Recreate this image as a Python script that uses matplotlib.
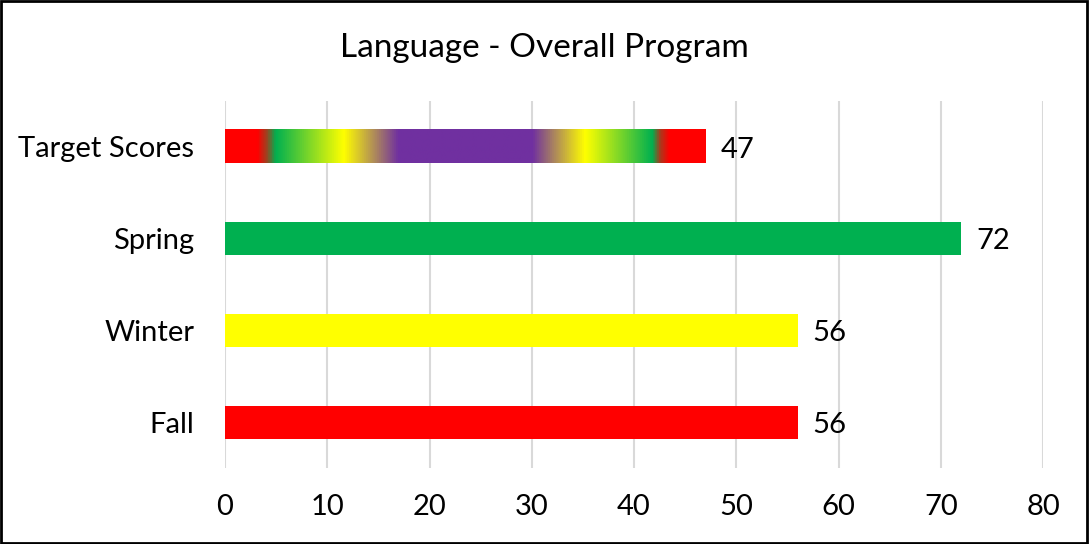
import matplotlib.pyplot as plt
import numpy as np
from matplotlib.colors import LinearSegmentedColormap
from matplotlib.patches import Rectangle

plt.rcParams['font.family'] = ['Lato', 'DejaVu Sans']

categories = ["Fall", "Winter", "Spring", "Target Scores"]
values = [56, 56, 72, 47]
bar_colors = ["#ff0000", "#ffff00", "#00b050", None]
xticks = [0, 10, 20, 30, 40, 50, 60, 70, 80]

# gradient used for the target bar (position along bar, colour)
grad_pos = [0.0, 0.066, 0.085, 0.104, 0.246, 0.36, 0.64, 0.75, 0.89, 0.905, 0.925, 1.0]
grad_col = ["#ff0000", "#ff0000", "#a04020", "#00b050", "#ffff00", "#7030a0",
            "#7030a0", "#ffff00", "#00b050", "#a04020", "#ff0000", "#ff0000"]

fig = plt.figure(figsize=(10.89, 5.44), dpi=100)
ax = fig.add_axes([225 / 1089, 1 - 468 / 544, (1043 - 225) / 1089, (468 - 101) / 544])

y = np.arange(len(categories))
h = 0.36
for i, (v, c) in enumerate(zip(values, bar_colors)):
    if c is not None:
        ax.barh(y[i], v, height=h, color=c, zorder=2)
    else:
        cmap = LinearSegmentedColormap.from_list("target", list(zip(grad_pos, grad_col)))
        grad = np.linspace(0, 1, 512).reshape(1, -1)
        ax.imshow(grad, cmap=cmap, aspect="auto", extent=[0, v, y[i] - h / 2, y[i] + h / 2],
                  zorder=2, interpolation="bilinear")
    ax.text(v + 1.45, y[i] - 0.03, str(v), va="center", ha="left", fontsize=21, color="#000000")

ax.set_xlim(0, 80)
ax.set_ylim(-0.5, len(categories) - 0.5)
ax.set_xticks(xticks)
ax.set_yticks(y)
ax.set_yticklabels(categories)
ax.tick_params(axis="x", length=0, pad=19, labelsize=21)
ax.tick_params(axis="y", length=0, pad=22, labelsize=21)
for lab in ax.get_yticklabels():
    lab.set_va("center_baseline")
ax.grid(axis="x", color="#d9d9d9", linewidth=1.5, zorder=0)
ax.set_axisbelow(True)
for s in ax.spines.values():
    s.set_visible(False)

fig.text(0.5, 1 - 48 / 544, "Language - Overall Program", ha="center", va="center", fontsize=24)
fig.patches.append(Rectangle((0.001, 0.002), 0.997, 0.996, transform=fig.transFigure,
                             fill=False, edgecolor="#000000", linewidth=2))

fig.savefig("out.png", dpi=100)
